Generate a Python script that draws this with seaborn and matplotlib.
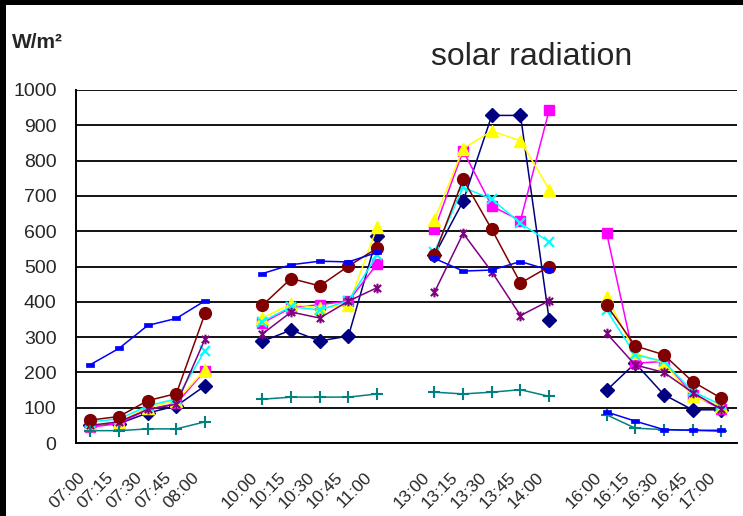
import numpy as np
import pandas as pd
import matplotlib
matplotlib.use("Agg")
import matplotlib.pyplot as plt
from matplotlib.path import Path
from matplotlib.patches import Rectangle
from matplotlib.transforms import ScaledTranslation
import seaborn as sns

# Category axis: four measuring blocks separated by empty slots
categories = ["07:00", "07:15", "07:30", "07:45", "08:00", "",
              "10:00", "10:15", "10:30", "10:45", "11:00", "",
              "13:00", "13:15", "13:30", "13:45", "14:00", "",
              "16:00", "16:15", "16:30", "16:45", "17:00"]

# W/m² per sensor, one value per non-empty category
series_navy    = [50, 55, 85, 105, 162,   288, 320, 289, 303, 585,   532, 685, 928, 928, 349,   149, 226, 137, 94, 94]
series_magenta = [45, 55, 95, 112, 205,   340, 383, 392, 402, 507,   605, 828, 671, 630, 943,   596, 226, 231, 137, 96]
series_yellow  = [50, 60, 100, 120, 207,  354, 394, 382, 390, 612,   632, 834, 884, 856, 718,   415, 255, 226, 132, 104]
series_cyan    = [60, 68, 105, 125, 262,  344, 386, 377, 403, 532,   542, 724, 691, 622, 570,   377, 250, 231, 146, 108]
series_purple  = [50, 60, 95, 110, 295,   309, 371, 354, 402, 440,   427, 594, 485, 361, 403,   311, 221, 200, 143, 96]
series_maroon  = [65, 75, 120, 140, 367,  390, 466, 445, 501, 552,   533, 747, 605, 453, 500,   391, 275, 250, 174, 127]
series_teal    = [35, 35, 40, 40, 60,     124, 130, 130, 130, 139,   144, 139, 144, 151, 132,   80, 42, 38, 36, 33]
series_blue    = [222, 268, 333, 353, 403, 480, 505, 515, 513, 540,  523, 487, 490, 514, 490,   88, 62, 38, 36, 36]

y_ticks = list(range(0, 1001, 100))

# custom marker shapes
dash_marker = Path([(-1, -0.45), (1, -0.45), (1, 0.45), (-1, 0.45), (-1, -0.45)],
                   [Path.MOVETO, Path.LINETO, Path.LINETO, Path.LINETO, Path.CLOSEPOLY])
star_marker = Path([(0, -1), (0, 1), (-0.75, -0.75), (0.75, 0.75), (-0.75, 0.75), (0.75, -0.75)],
                   [Path.MOVETO, Path.LINETO, Path.MOVETO, Path.LINETO, Path.MOVETO, Path.LINETO])

styles = [
    (series_navy,    "#000080", "D", 7.0, True, 1.0),
    (series_magenta, "#FF00FF", "s", 7.0, True, 1.0),
    (series_yellow,  "#FFFF00", "^", 8.5, True, 1.0),
    (series_cyan,    "#00FFFF", "x", 7.0, False, 1.6),
    (series_purple,  "#800080", star_marker, 7.0, False, 1.5),
    (series_maroon,  "#800000", "o", 8.5, True, 1.0),
    (series_teal,    "#008080", "+", 8.0, False, 1.5),
    (series_blue,    "#0000FF", dash_marker, 5.5, True, 0.5),
]

positions = [i for i, c in enumerate(categories) if c]
segments = [categories[:i].count("") for i in positions]

sns.set_style("white")
plt.rcParams["font.family"] = ["Liberation Sans", "DejaVu Sans"]

fig = plt.figure(figsize=(7.43, 5.16), dpi=100, facecolor="white")
ax = fig.add_axes([76 / 743, 1 - 443 / 516, (737 - 76) / 743, (443 - 90) / 516])
ax.set_facecolor("white")

for values, color, marker, size, filled, mew in styles:
    df = pd.DataFrame({"pos": positions, "value": values, "segment": segments})
    sns.lineplot(data=df, x="pos", y="value", units="segment", estimator=None,
                 sort=False, color=color, linewidth=1.1, marker=marker,
                 markersize=size, markeredgecolor=color,
                 markerfacecolor=color if filled else "none",
                 markeredgewidth=mew, legend=False, ax=ax, zorder=3)

ax.set_xlim(-0.5, len(categories) - 0.45)
ax.set_ylim(0, 1000)
ax.set_yticks(y_ticks)
ax.set_yticklabels([str(v) for v in y_ticks], fontsize=14)
ax.yaxis.grid(True, color="black", linewidth=1.3)
ax.set_axisbelow(True)

ax.set_xticks(np.arange(-0.5, len(categories), 1.0))
ax.set_xticklabels([])
ax.set_xticks(np.arange(len(categories)), minor=True)
ax.set_xticklabels(categories, minor=True, rotation=45, ha="right", va="top",
                   rotation_mode="anchor", fontsize=12.5)
ax.tick_params(axis="x", which="major", direction="out", length=5, width=1.2, color="black")
ax.tick_params(axis="x", which="minor", length=0, pad=19)
ax.tick_params(axis="y", direction="out", length=5, width=1.2, color="black", pad=9)
shift = ScaledTranslation(-0.13, 0, fig.dpi_scale_trans)
for lab in ax.get_xticklabels(minor=True):
    lab.set_transform(lab.get_transform() + shift)

ax.set_xlabel("")
ax.set_ylabel("")
for side in ("top", "right"):
    ax.spines[side].set_visible(False)
for side in ("left", "bottom"):
    ax.spines[side].set_color("black")
    ax.spines[side].set_linewidth(1.4)

fig.text(532 / 743, 1 - 57 / 516, "solar radiation", ha="center", va="center", fontsize=23)
fig.text(12 / 743, 1 - 43 / 516, "W/m²", ha="left", va="center", fontsize=15, fontweight="bold")

# black frame strips on left and top edges
fig.patches.append(Rectangle((0, 0), 6 / 743, 1, transform=fig.transFigure,
                             facecolor="black", edgecolor="none", zorder=10))
fig.patches.append(Rectangle((0, 1 - 5 / 516), 1, 5 / 516, transform=fig.transFigure,
                             facecolor="black", edgecolor="none", zorder=10))

fig.savefig("out.png", dpi=100, facecolor="white")
